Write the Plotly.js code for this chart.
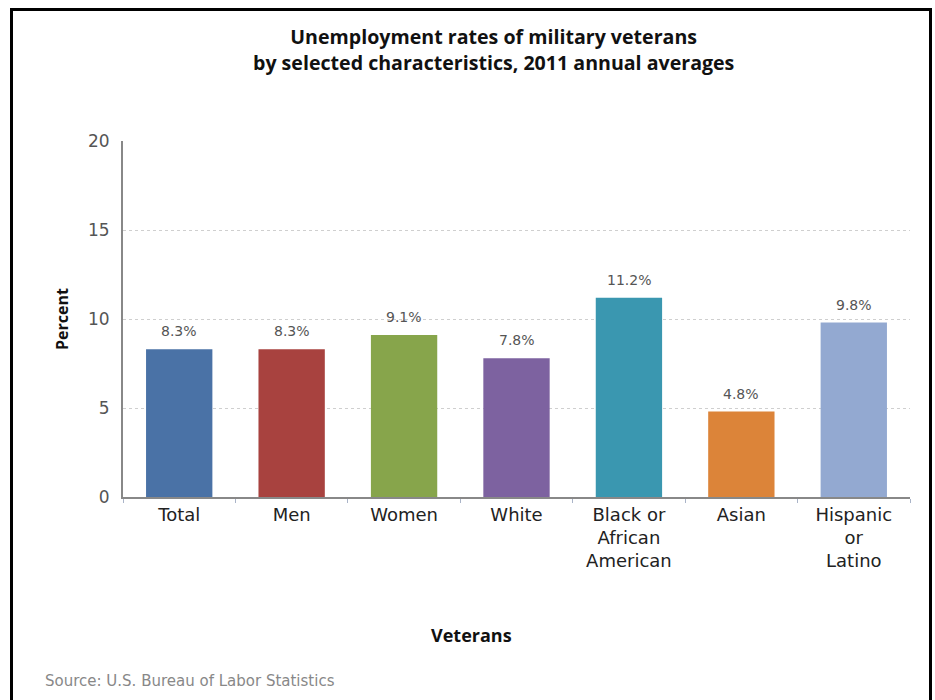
<!DOCTYPE html>
<html>
<head>
<meta charset="utf-8">
<script src="https://cdn.plot.ly/plotly-3.0.1.min.js"></script>
<style>
  html, body { margin: 0; padding: 0; background: #fff; overflow: hidden; }
  #chart { width: 935px; height: 700px; }
  #frame { position: absolute; left: 10px; top: 8px; width: 916px; height: 720px;
           border: 3px solid #000; border-bottom: none; pointer-events: none; box-sizing: content-box; }
</style>
</head>
<body>
<div id="chart"></div>
<div id="frame"></div>
<script>
const categories = ["Total", "Men", "Women", "White", "Black or<br>African<br>American", "Asian", "Hispanic<br>or<br>Latino"];
const rates = [8.3, 8.3, 9.1, 7.8, 11.2, 4.8, 9.8];
const barColors = ["#4a72a6", "#a8423f", "#87a54b", "#7d62a0", "#3a97b0", "#dc8439", "#93a9d1"];
const yTicks = [0, 5, 10, 15, 20];

const trace = {
  type: "bar",
  x: categories,
  y: rates,
  marker: { color: barColors, line: { width: 0 } },
  hoverinfo: "skip"
};

const labelAnnotations = categories.map((c, i) => ({
  x: c, y: rates[i], xref: "x", yref: "y",
  text: rates[i].toFixed(1) + "%",
  showarrow: false, yanchor: "bottom", yshift: 8,
  font: { family: "DejaVu Sans", size: 14, color: "#555" }
}));

const layout = {
  width: 935, height: 700,
  margin: { l: 123, r: 25, t: 141, b: 203 },
  paper_bgcolor: "#fff", plot_bgcolor: "#fff",
  showlegend: false,
  bargap: 0.41,
  title: {
    text: "<b>Unemployment rates of military veterans<br>by selected characteristics, 2011 annual averages</b>",
    x: 0.528, xanchor: "center", y: 0.937, yanchor: "middle", xref: "container", yref: "container",
    font: { family: "Open Sans", size: 19.6, color: "#111" }
  },
  xaxis: {
    showline: true, linecolor: "#888", linewidth: 2,
    ticks: "outside", tickson: "boundaries", ticklen: 4, tickcolor: "#aab4c8",
    tickfont: { family: "DejaVu Sans", size: 18, color: "#222" },
    showgrid: false, fixedrange: true
  },
  yaxis: {
    range: [0, 20], tickvals: yTicks, ticktext: yTicks.map(String),
    showline: true, linecolor: "#888", linewidth: 2,
    showgrid: true, gridcolor: "#cfcfcf", griddash: "dot", gridwidth: 1,
    zeroline: false, ticks: "", ticklabelstandoff: 8,
    tickfont: { family: "DejaVu Sans", size: 17, color: "#555" },
    fixedrange: true
  },
  annotations: labelAnnotations.concat([
    { text: "<b>Percent</b>", xref: "paper", yref: "paper", x: -0.0775, y: 0.5,
      textangle: -90, showarrow: false, xanchor: "center", yanchor: "middle",
      font: { family: "Open Sans", size: 16, color: "#111" } },
    { text: "<b>Veterans</b>", xref: "paper", yref: "paper", x: 0.443, y: -0.388,
      showarrow: false, xanchor: "center", yanchor: "middle",
      font: { family: "Open Sans", size: 18, color: "#111" } },
    { text: "Source: U.S. Bureau of Labor Statistics", xref: "paper", yref: "paper",
      x: -0.102, y: -0.517, showarrow: false, xanchor: "left", yanchor: "middle",
      font: { family: "DejaVu Sans", size: 15, color: "#888" } }
  ])
};

Plotly.newPlot("chart", [trace], layout, { displayModeBar: false, staticPlot: true });
</script>
</body>
</html>
